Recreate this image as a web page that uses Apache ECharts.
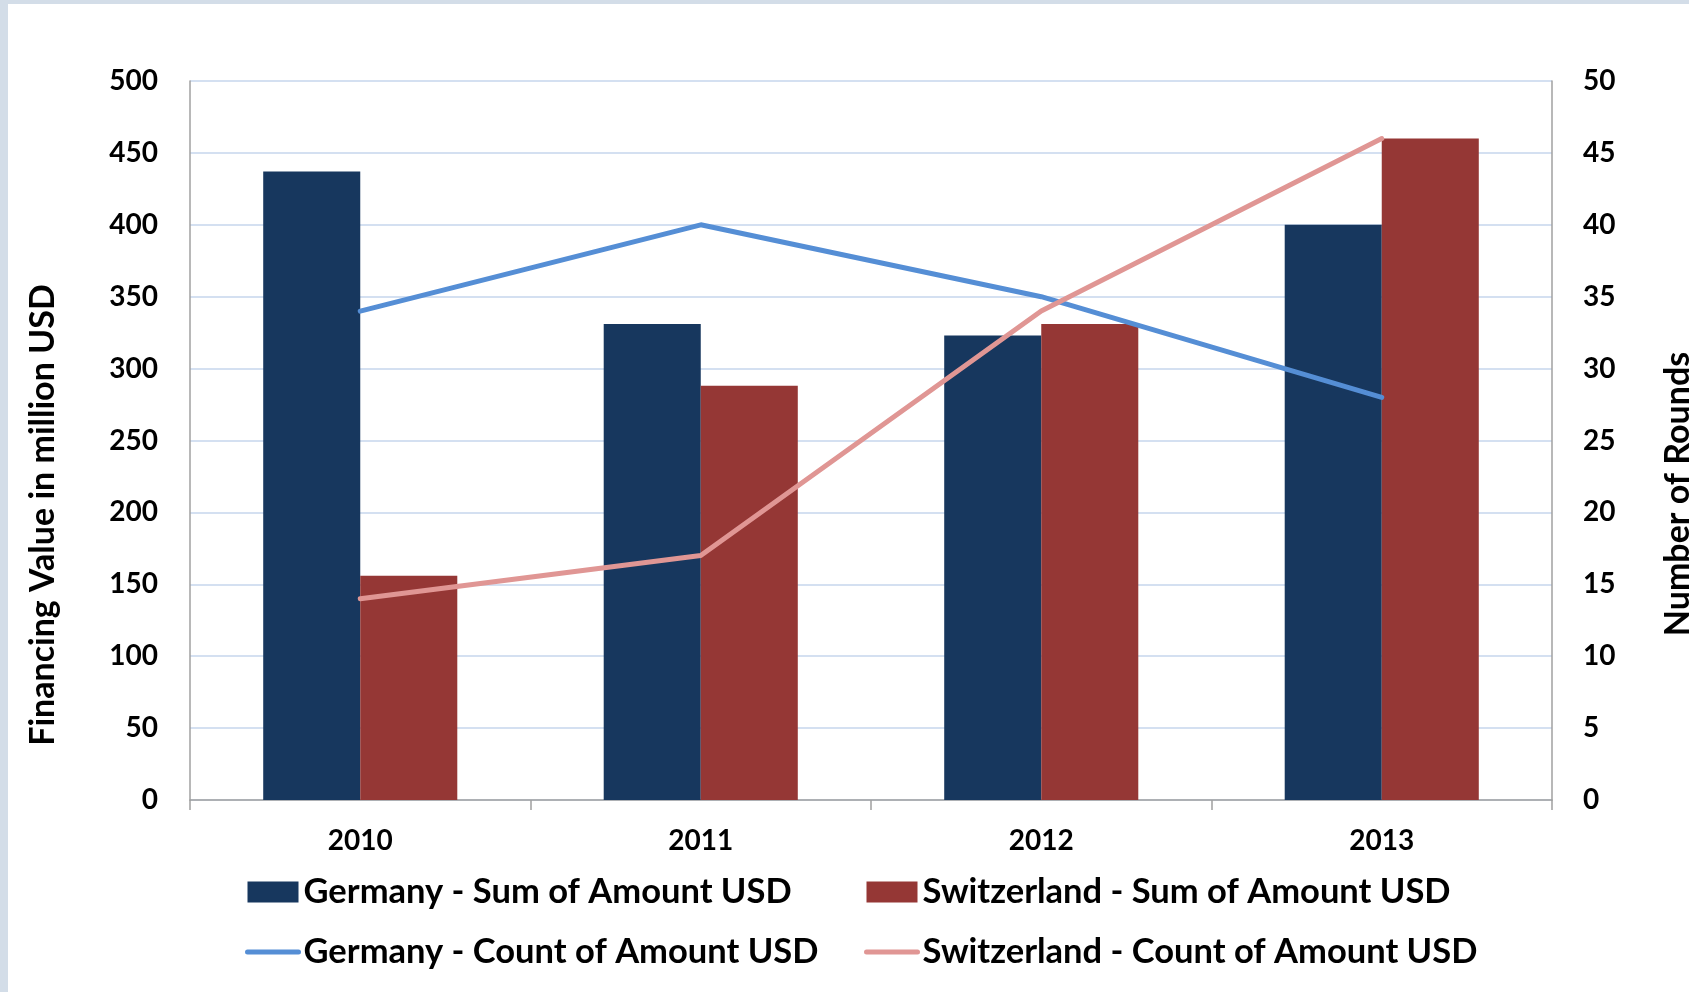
<!DOCTYPE html>
<html>
<head>
<meta charset="utf-8">
<script src="https://cdn.jsdelivr.net/npm/echarts@6/dist/echarts.min.js"></script>
<style>
html,body{margin:0;padding:0;background:#d3dde8;width:1689px;height:992px;overflow:hidden;}
#chart{position:absolute;left:8px;top:4px;width:1681px;height:988px;background:#ffffff;}
</style>
</head>
<body>
<div id="chart"></div>
<script>
const categories = ['2010', '2011', '2012', '2013'];
const germanySum = [437, 331, 323, 400];
const switzerlandSum = [156, 288, 331, 460];
const germanyCount = [34, 40, 35, 28];
const switzerlandCount = [14, 17, 34, 46];
const leftTitle = 'Financing Value in million USD';
const rightTitle = 'Number of Rounds';

const FONT = 'Lato, "Open Sans", sans-serif';
const chart = echarts.init(document.getElementById('chart'), null, {renderer: 'canvas'});

const tickLabel = {color: '#000', fontFamily: FONT, fontWeight: 'bold', fontSize: 28};
const legendText = {color: '#000', fontFamily: FONT, fontWeight: 'bold', fontSize: 34.5, lineHeight: 36};

chart.setOption({
  animation: false,
  backgroundColor: '#ffffff',
  grid: {left: 182, top: 77, right: 137, bottom: 192, containLabel: false},
  xAxis: {
    type: 'category',
    data: categories,
    axisLine: {show: true, lineStyle: {color: '#a0a0a0', width: 1.5}},
    axisTick: {show: true, length: 10, lineStyle: {color: '#a0a0a0', width: 1.5}},
    axisLabel: Object.assign({margin: 27}, tickLabel),
    splitLine: {show: false}
  },
  yAxis: [
    {
      type: 'value', min: 0, max: 500, interval: 50, position: 'left',
      axisLine: {show: true, lineStyle: {color: '#a0a0a0', width: 1.5}},
      axisTick: {show: false},
      axisLabel: Object.assign({margin: 32}, tickLabel),
      splitLine: {show: true, lineStyle: {color: '#c6d6ec', width: 1.5}}
    },
    {
      type: 'value', min: 0, max: 50, interval: 5, position: 'right',
      axisLine: {show: true, lineStyle: {color: '#a0a0a0', width: 1.5}},
      axisTick: {show: false},
      axisLabel: Object.assign({margin: 31}, tickLabel),
      splitLine: {show: false}
    }
  ],
  legend: [
    {
      left: 232, top: 865, orient: 'vertical', itemGap: 24, itemWidth: 51, itemHeight: 21,
      data: [
        {name: 'Germany - Sum of Amount USD', icon: 'rect'},
        {name: 'Germany - Count of Amount USD', itemStyle: {opacity: 0},
         lineStyle: {width: 5, cap: 'round', color: '#558ed5'}}
      ],
      textStyle: legendText
    },
    {
      left: 851, top: 865, orient: 'vertical', itemGap: 24, itemWidth: 51, itemHeight: 21,
      data: [
        {name: 'Switzerland - Sum of Amount USD', icon: 'rect'},
        {name: 'Switzerland - Count of Amount USD', itemStyle: {opacity: 0},
         lineStyle: {width: 5, cap: 'round', color: '#e09694'}}
      ],
      textStyle: legendText
    }
  ],
  graphic: [
    {type: 'text', x: 35, y: 511, rotation: Math.PI / 2,
     style: {text: leftTitle, fill: '#000', fontFamily: FONT, fontWeight: 'bold', fontSize: 34, align: 'center', verticalAlign: 'middle'}},
    {type: 'text', x: 1670, y: 490, rotation: Math.PI / 2,
     style: {text: rightTitle, fill: '#000', fontFamily: FONT, fontWeight: 'bold', fontSize: 34, align: 'center', verticalAlign: 'middle'}}
  ],
  series: [
    {name: 'Germany - Sum of Amount USD', type: 'bar', data: germanySum, yAxisIndex: 0,
     barGap: '0%', barCategoryGap: '43%', itemStyle: {color: '#17375e'}},
    {name: 'Switzerland - Sum of Amount USD', type: 'bar', data: switzerlandSum, yAxisIndex: 0,
     barGap: '0%', barCategoryGap: '43%', itemStyle: {color: '#953735'}},
    {name: 'Germany - Count of Amount USD', type: 'line', data: germanyCount, yAxisIndex: 1,
     symbol: 'none', lineStyle: {color: '#558ed5', width: 5, cap: 'round'}, itemStyle: {color: '#558ed5'}},
    {name: 'Switzerland - Count of Amount USD', type: 'line', data: switzerlandCount, yAxisIndex: 1,
     symbol: 'none', lineStyle: {color: '#e09694', width: 5, cap: 'round'}, itemStyle: {color: '#e09694'}}
  ]
});
</script>
</body>
</html>
